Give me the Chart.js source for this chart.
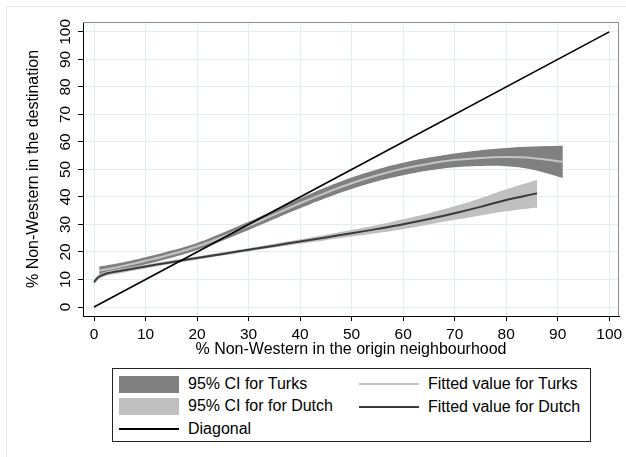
<!DOCTYPE html>
<html>
<head>
<meta charset="utf-8">
<script src="https://cdn.jsdelivr.net/npm/chart.js@4/dist/chart.umd.min.js"></script>
<style>
    html, body { margin: 0; padding: 0; background: #fff; }
    body { width: 626px; height: 457px; position: relative; overflow: hidden;
           font-family: "Liberation Sans", Arial, sans-serif; }
    #frame { position: absolute; left: 6px; top: 6px; width: 640px; height: 470px;
             border: 1px solid #e3ecee; box-sizing: border-box; }
    #chart { position: absolute; left: 0; top: 0; }
    #legend { position: absolute; left: 112px; top: 368px; width: 479px; height: 74px;
              border: 1px solid #222; box-sizing: border-box; }
    #legend .sym { position: absolute; }
    #legend .txt { position: absolute; font-size: 16px; line-height: 20px; color: #000; white-space: nowrap; }
</style>
</head>
<body>
<div id="frame"></div>
<canvas id="chart" width="626" height="362"></canvas>
<div id="legend"></div>
<script>
// Axis ticks
const X_TICKS = [0, 10, 20, 30, 40, 50, 60, 70, 80, 90, 100];
const Y_TICKS = [0, 10, 20, 30, 40, 50, 60, 70, 80, 90, 100];

// Turks: fitted value and 95% CI
const turksX     = [1, 5, 10, 15, 20, 25, 30, 35, 40, 45, 50, 55, 60, 65, 70, 75, 80, 85, 91];
const turksFit   = [13.2, 14.6, 16.8, 19.2, 22.0, 25.6, 29.5, 33.6, 37.7, 41.5, 45.0, 47.9, 50.3, 52.1, 53.4, 54.2, 54.5, 54.2, 52.8];
const turksUpper = [14.7, 16.0, 18.1, 20.5, 23.3, 27.0, 31.0, 35.2, 39.5, 43.5, 47.1, 50.0, 52.4, 54.3, 55.8, 57.0, 57.8, 58.3, 58.6];
const turksLower = [11.7, 13.2, 15.5, 17.9, 20.7, 24.2, 28.0, 32.0, 35.9, 39.6, 42.9, 45.7, 47.9, 49.6, 50.8, 51.3, 51.2, 50.0, 46.9];

// Dutch: fitted value and 95% CI
const dutchX     = [0, 0.5, 1, 2, 3, 5, 10, 15, 20, 25, 30, 35, 40, 45, 50, 55, 60, 65, 70, 75, 80, 86];
const dutchFit   = [9.0, 10.2, 11.0, 11.9, 12.4, 13.1, 14.7, 16.3, 17.8, 19.3, 20.8, 22.3, 23.8, 25.3, 26.8, 28.4, 30.1, 32.0, 34.1, 36.4, 38.9, 41.3];
const dutchUpper = [9.9, 11.1, 11.8, 12.7, 13.2, 13.9, 15.4, 16.9, 18.4, 19.9, 21.4, 23.0, 24.6, 26.3, 28.0, 29.8, 31.9, 34.1, 36.6, 39.5, 42.8, 46.2];
const dutchLower = [8.1, 9.3, 10.2, 11.1, 11.6, 12.3, 14.0, 15.7, 17.2, 18.7, 20.2, 21.6, 23.0, 24.3, 25.6, 26.9, 28.3, 30.0, 31.7, 33.3, 34.8, 36.2];

// Diagonal
const diagX = [0, 100];
const diagY = [0, 100];

const LABELS = {
    ciTurks: '95% CI for Turks',
    fitTurks: 'Fitted value for Turks',
    ciDutch: '95% CI for for Dutch',
    fitDutch: 'Fitted value for Dutch',
    diagonal: 'Diagonal'
};

const COLORS = {
    bandTurks: '#808080',
    bandDutch: '#c0c0c0',
    lineTurks: '#c4c4c4',
    lineDutch: '#3a3a3a',
    diagonal: '#000000',
    grid: '#e3eeef',
    frame: '#8c8c8c'
};

const FONT = '"Liberation Sans", Arial, sans-serif';

function pts(xs, ys) {
    return xs.map((x, i) => ({ x: x, y: ys[i] }));
}

function band(xs, ys, fill, color, order) {
    return {
        data: pts(xs, ys),
        borderWidth: 0,
        borderColor: 'transparent',
        backgroundColor: color,
        pointRadius: 0,
        tension: 0.4,
        fill: fill,
        order: order
    };
}

function line(xs, ys, color, width, order) {
    return {
        data: pts(xs, ys),
        borderWidth: width,
        borderColor: color,
        pointRadius: 0,
        tension: 0.4,
        fill: false,
        order: order
    };
}

// Plot region frame (top/right) and rotated y tick labels
const framePlugin = {
    id: 'framePlugin',
    afterDraw(chart) {
        const { ctx, chartArea: a, scales } = chart;
        ctx.save();
        ctx.strokeStyle = COLORS.frame;
        ctx.lineWidth = 1;
        ctx.beginPath();
        ctx.moveTo(a.left, a.top + 0.5);
        ctx.lineTo(a.right - 0.5, a.top + 0.5);
        ctx.lineTo(a.right - 0.5, a.bottom);
        ctx.stroke();

        ctx.fillStyle = '#000';
        ctx.font = '15.5px ' + FONT;
        ctx.textAlign = 'center';
        ctx.textBaseline = 'middle';
        Y_TICKS.forEach(v => {
            const y = scales.y.getPixelForValue(v);
            ctx.save();
            ctx.translate(66, y);
            ctx.rotate(-Math.PI / 2);
            ctx.fillText(String(v), 0, 0);
            ctx.restore();
        });
        ctx.restore();
    }
};

const ctx = document.getElementById('chart').getContext('2d');
new Chart(ctx, {
    type: 'line',
    data: {
        datasets: [
            band(turksX, turksUpper, '+1', COLORS.bandTurks, 10),
            band(turksX, turksLower, false, COLORS.bandTurks, 10),
            line(turksX, turksFit, COLORS.lineTurks, 2, 8),
            band(dutchX, dutchUpper, '+1', COLORS.bandDutch, 6),
            band(dutchX, dutchLower, false, COLORS.bandDutch, 6),
            line(dutchX, dutchFit, COLORS.lineDutch, 2, 4),
            line(diagX, diagY, COLORS.diagonal, 1.6, 2)
        ]
    },
    options: {
        responsive: false,
        animation: false,
        layout: { padding: { left: 0, top: 22, right: 7, bottom: 0 } },
        plugins: {
            legend: { display: false },
            tooltip: { enabled: false },
            filler: { propagate: false }
        },
        scales: {
            x: {
                type: 'linear',
                min: -2.14,
                max: 101.9,
                afterBuildTicks: s => { s.ticks = X_TICKS.map(v => ({ value: v })); },
                afterFit: s => { s.height = 46; s.paddingLeft = 0; s.paddingRight = 0; },
                grid: { color: COLORS.grid, tickColor: '#000', tickLength: 5, lineWidth: 1 },
                border: { color: '#000', width: 1 },
                ticks: {
                    color: '#000',
                    padding: 4,
                    maxRotation: 0,
                    font: { family: FONT, size: 15.5 },
                    callback: v => String(v)
                },
                title: {
                    display: true,
                    text: '% Non-Western in the origin neighbourhood',
                    color: '#000',
                    font: { family: FONT, size: 16 },
                    padding: { top: 0, bottom: 3 }
                }
            },
            y: {
                type: 'linear',
                min: -3.27,
                max: 103.6,
                afterBuildTicks: s => { s.ticks = Y_TICKS.map(v => ({ value: v })); },
                afterFit: s => { s.width = 83; s.paddingTop = 0; s.paddingBottom = 0; },
                grid: { color: COLORS.grid, tickColor: '#000', tickLength: 5, lineWidth: 1 },
                border: { color: '#000', width: 1 },
                ticks: { display: false },
                title: {
                    display: true,
                    text: '% Non-Western in the destination',
                    color: '#000',
                    font: { family: FONT, size: 16 },
                    padding: { top: 24, bottom: 0 }
                }
            }
        }
    },
    plugins: [framePlugin]
});

// Legend (two columns, Stata style)
const legendItems = [
    { label: LABELS.ciTurks,  kind: 'box',  color: COLORS.bandTurks, x: 6,   y: 15 },
    { label: LABELS.ciDutch,  kind: 'box',  color: COLORS.bandDutch, x: 6,   y: 37 },
    { label: LABELS.diagonal, kind: 'line', color: COLORS.diagonal,  x: 6,   y: 60, w: 1.6 },
    { label: LABELS.fitTurks, kind: 'line', color: COLORS.lineTurks, x: 246, y: 15, w: 2 },
    { label: LABELS.fitDutch, kind: 'line', color: COLORS.lineDutch, x: 246, y: 38, w: 2 }
];

const legend = document.getElementById('legend');
legendItems.forEach(item => {
    const sym = document.createElement('div');
    sym.className = 'sym';
    sym.style.left = item.x + 'px';
    sym.style.width = '60px';
    sym.style.background = item.color;
    if (item.kind === 'box') {
        sym.style.top = (item.y - 8) + 'px';
        sym.style.height = '17px';
    } else {
        sym.style.top = (item.y - item.w / 2) + 'px';
        sym.style.height = item.w + 'px';
    }
    legend.appendChild(sym);

    const txt = document.createElement('div');
    txt.className = 'txt';
    txt.style.left = (item.x + 69) + 'px';
    txt.style.top = (item.y - 10) + 'px';
    txt.textContent = item.label;
    legend.appendChild(txt);
});
</script>
</body>
</html>
